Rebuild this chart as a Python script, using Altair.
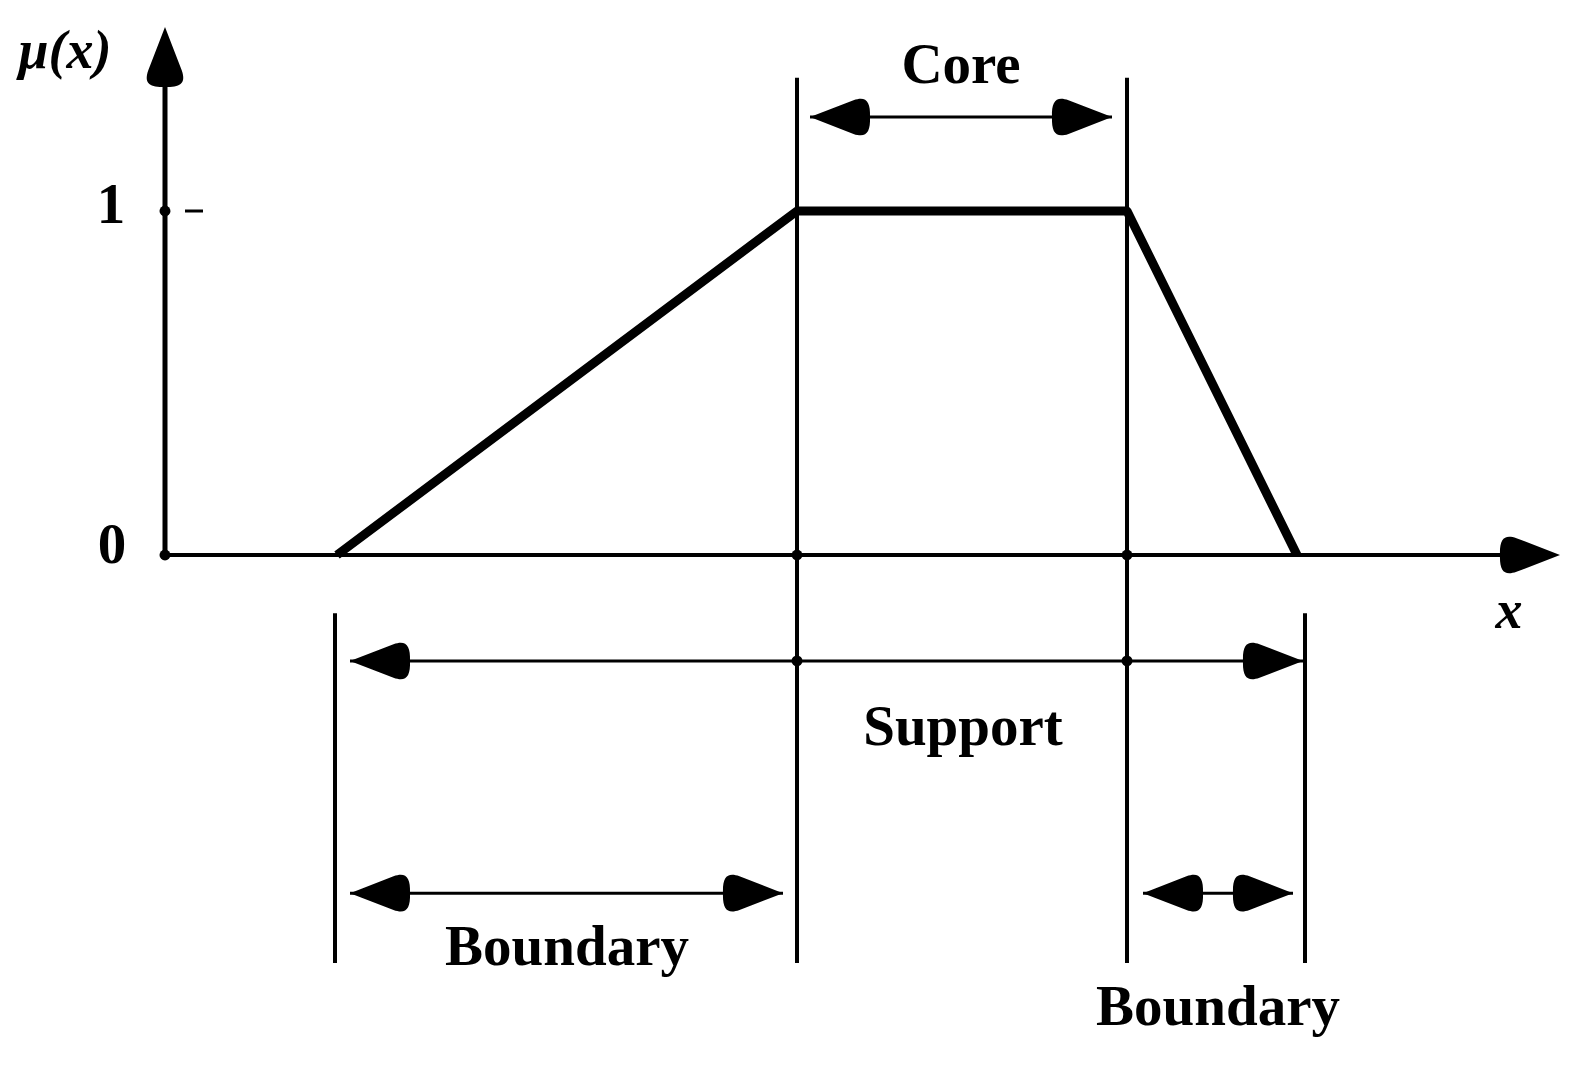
import altair as alt
import pandas as pd

# ---------------- data (abstract units: x in "px/100" from origin, y = membership) ----
TRAP_X = [1.72, 6.32, 9.62, 11.32]
TRAP_Y = [0.0, 1.0, 1.0, 0.0]

# axes lines (start/end) and arrow tips
AXIS_X1 = [0.0, 0.0]
AXIS_X2 = [13.4, 0.0]
AXIS_Y1 = [0.0, 0.0]
AXIS_Y2 = [0.0, 1.38]
AXIS_W = [4, 5]

# vertical guide lines
VLINE_X = [1.70, 6.32, 9.62, 11.40]
VLINE_TOP = [-0.169, 1.387, 1.387, -0.169]
VLINE_BOTTOM = [-1.186, -1.186, -1.186, -1.186]

# double-headed dimension arrows (tips)
DIM_X1 = [6.45, 1.85, 1.85, 9.78]
DIM_X2 = [9.47, 11.38, 6.18, 11.28]
DIM_Y = [1.273, -0.308, -0.983, -0.983]

# axis arrow tips
AXHEAD_X = [13.95, 0.0]
AXHEAD_Y = [0.0, 1.535]
AXHEAD_ANGLE = [0, 270]

# small junction dots
DOT_X = [0.0, 6.32, 9.62, 6.32, 9.62, 0.0]
DOT_Y = [0.0, 0.0, 0.0, -0.308, -0.308, 1.0]

# tick dash at membership 1
TICK_X1, TICK_X2, TICK_Y = [0.20], [0.38], [1.0]

# labels
LABELS = ["Core", "Support", "Boundary", "Boundary", "1", "0"]
LABEL_X = [7.96, 7.98, 4.02, 10.53, -0.54, -0.53]
LABEL_Y = [1.372, -0.552, -1.192, -1.366, 0.965, -0.023]
ITALIC_LABELS = ["μ(x)", "x"]
ITALIC_X = [-1.0, 13.44]
ITALIC_Y = [1.416, -0.212]

# ---------------- scales ----------------
W, H = 1577, 1054
XMIN, XMAX = -1.57, 14.20
YMAX = 5.47 / 3.44
YMIN = YMAX - H / 344.0

xs = alt.Scale(domain=[XMIN, XMAX], nice=False, zero=False)
ys = alt.Scale(domain=[YMIN, YMAX], nice=False, zero=False)


def X(f="x"):
    return alt.X(f"{f}:Q", scale=xs, axis=None)


def Y(f="y"):
    return alt.Y(f"{f}:Q", scale=ys, axis=None)


BLACK = "#000000"
FONT = "Liberation Serif"

# ---------------- layers ----------------
trap = alt.Chart(pd.DataFrame({"x": TRAP_X, "y": TRAP_Y, "o": range(4)})).mark_line(
    color=BLACK, strokeWidth=9, strokeJoin="round"
).encode(x=X(), y=Y(), order="o:Q")

axes = alt.Chart(pd.DataFrame({"x": AXIS_X1, "x2": AXIS_X2, "y": AXIS_Y1, "y2": AXIS_Y2, "w": AXIS_W})).mark_rule(
    color=BLACK
).encode(x=X(), x2="x2:Q", y=Y(), y2="y2:Q", strokeWidth=alt.StrokeWidth("w:Q", scale=None))

vlines = alt.Chart(pd.DataFrame({"x": VLINE_X, "y": VLINE_TOP, "y2": VLINE_BOTTOM})).mark_rule(
    color=BLACK, strokeWidth=4
).encode(x=X(), y=Y(), y2="y2:Q")

shafts = alt.Chart(pd.DataFrame({"x": DIM_X1, "x2": DIM_X2, "y": DIM_Y})).mark_rule(
    color=BLACK, strokeWidth=3
).encode(x=X(), x2="x2:Q", y=Y())

tick = alt.Chart(pd.DataFrame({"x": TICK_X1, "x2": TICK_X2, "y": TICK_Y})).mark_rule(
    color=BLACK, strokeWidth=3
).encode(x=X(), x2="x2:Q", y=Y())

# arrow heads: tip at origin, rounded body extends backwards
HEAD = "M0,0 L-1.45,-0.56 C-1.85,-0.7 -2.02,-0.55 -2.0,0 C-2.02,0.55 -1.85,0.7 -1.45,0.56 Z"
head_x = DIM_X1 + DIM_X2 + AXHEAD_X
head_y = DIM_Y + DIM_Y + AXHEAD_Y
head_a = [180] * len(DIM_X1) + [0] * len(DIM_X2) + AXHEAD_ANGLE
heads = alt.Chart(pd.DataFrame({"x": head_x, "y": head_y, "a": head_a})).mark_point(
    shape=HEAD, filled=True, color=BLACK, opacity=1, size=3600, strokeWidth=0
).encode(x=X(), y=Y(), angle=alt.Angle("a:Q", scale=None))

dots = alt.Chart(pd.DataFrame({"x": DOT_X, "y": DOT_Y})).mark_circle(
    color=BLACK, opacity=1, size=120
).encode(x=X(), y=Y())

labels = alt.Chart(pd.DataFrame({"x": LABEL_X, "y": LABEL_Y, "t": LABELS})).mark_text(
    font=FONT, fontWeight="bold", fontSize=57, color=BLACK, align="center", baseline="alphabetic"
).encode(x=X(), y=Y(), text="t:N")

ital = alt.Chart(pd.DataFrame({"x": ITALIC_X, "y": ITALIC_Y, "t": ITALIC_LABELS})).mark_text(
    font=FONT, fontWeight="bold", fontStyle="italic", fontSize=54, color=BLACK,
    align="center", baseline="alphabetic"
).encode(x=X(), y=Y(), text="t:N")

chart = alt.layer(vlines, axes, shafts, tick, trap, heads, dots, labels, ital).properties(
    width=W, height=H, padding=0, autosize=alt.AutoSizeParams(type="none"), background="white"
).configure_view(stroke=None)

chart.save("out.html", embed_options={"renderer": "svg", "actions": False})
